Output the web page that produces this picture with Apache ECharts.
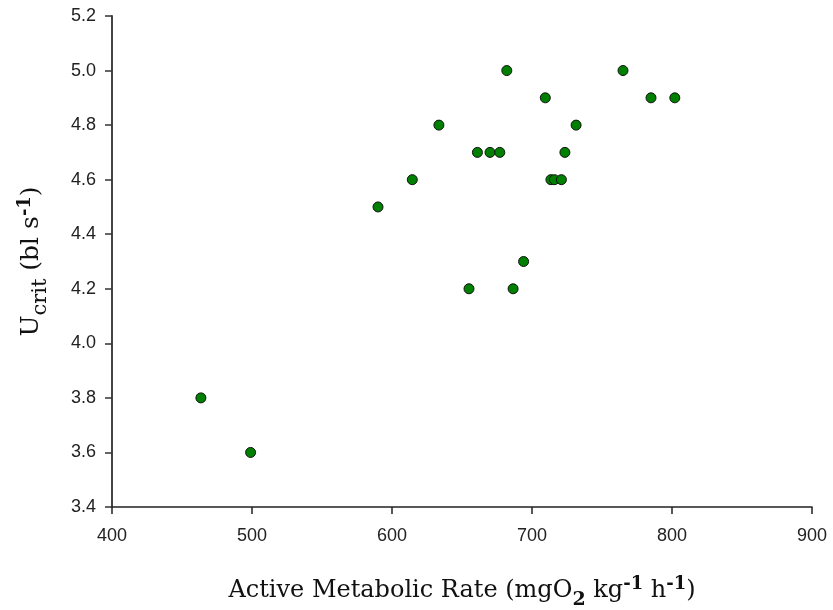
<!DOCTYPE html>
<html>
<head>
<meta charset="utf-8">
<script src="https://cdn.jsdelivr.net/npm/echarts@6/dist/echarts.min.js"></script>
<style>html,body{margin:0;padding:0;background:#fff}#c{width:833px;height:610px}</style>
</head>
<body>
<div id="c"></div>
<script>
var amr =   [682, 765, 709.5, 785, 802, 633.5, 731.5, 661, 670, 677, 723.5, 614.5, 713.5, 716, 721, 694, 655, 686.5, 590, 463.5, 499];
var ucrit = [5.0, 5.0, 4.9,   4.9, 4.9, 4.8,   4.8,   4.7, 4.7, 4.7, 4.7,   4.6,   4.6,   4.6, 4.6, 4.3, 4.2, 4.2,   4.5, 3.8,   3.6];
var xTicks = [400, 500, 600, 700, 800, 900];
var yTicks = [3.4, 3.6, 3.8, 4.0, 4.2, 4.4, 4.6, 4.8, 5.0, 5.2];

var points = amr.map(function (v, i) { return [v, ucrit[i]]; });
var chart = echarts.init(document.getElementById('c'), null, {renderer: 'canvas'});
var serif = '"DejaVu Serif", Georgia, serif';
var sans = '"Liberation Sans", Arial, sans-serif';
chart.setOption({
  animation: false,
  grid: {left: 112, right: 21, top: 16, bottom: 103, containLabel: false, outerBoundsMode: 'none'},
  xAxis: {
    type: 'value', min: xTicks[0], max: xTicks[xTicks.length - 1], interval: 100,
    axisLine: {show: true, onZero: false, lineStyle: {color: '#222', width: 1.5}},
    axisTick: {show: true, length: 7, lineStyle: {color: '#222', width: 1.5}},
    splitLine: {show: false},
    axisLabel: {color: '#222', fontFamily: sans, fontSize: 18, margin: 20},
    name: '{t|Active Metabolic Rate (mgO}{sub|2}{t| kg}{sup|-1}{t| h}{sup|-1}{t|)}',
    nameLocation: 'middle', nameGap: 64,
    nameTextStyle: {
      rich: {
        t: {fontFamily: serif, fontSize: 24, color: '#111', verticalAlign: 'bottom', lineHeight: 32},
        sub: {fontFamily: serif, fontSize: 19, color: '#111', fontWeight: 'bold', verticalAlign: 'bottom', lineHeight: 24, padding: [0, 0, -7, 0]},
        sup: {fontFamily: serif, fontSize: 18, color: '#111', fontWeight: 'bold', verticalAlign: 'top', lineHeight: 24, padding: [4, 0, 0, 0]}
      }
    }
  },
  yAxis: {
    type: 'value', min: yTicks[0], max: yTicks[yTicks.length - 1], interval: 0.2,
    axisLine: {show: true, onZero: false, lineStyle: {color: '#444', width: 2}},
    axisTick: {show: true, length: 7, lineStyle: {color: '#333', width: 1.5}},
    splitLine: {show: false},
    axisLabel: {color: '#222', fontFamily: sans, fontSize: 18, margin: 16,
      formatter: function (v) { return v.toFixed(1); }},
    name: '{t|U}{sub|crit}{t| (bl s}{sup|-1}{t|)}',
    nameLocation: 'middle', nameGap: 68, nameRotate: 90,
    nameTextStyle: {
      rich: {
        t: {fontFamily: serif, fontSize: 25, color: '#111', verticalAlign: 'bottom', lineHeight: 32},
        sub: {fontFamily: serif, fontSize: 21, color: '#111', verticalAlign: 'bottom', lineHeight: 24, padding: [0, 0, -7, 0]},
        sup: {fontFamily: serif, fontSize: 18, color: '#111', fontWeight: 'bold', verticalAlign: 'top', lineHeight: 24, padding: [4, 0, 0, 0]}
      }
    }
  },
  series: [{
    type: 'scatter', data: points, symbol: 'circle', symbolSize: 10,
    itemStyle: {color: '#008000', opacity: 1, borderColor: '#111', borderWidth: 1}
  }]
});
</script>
</body>
</html>
